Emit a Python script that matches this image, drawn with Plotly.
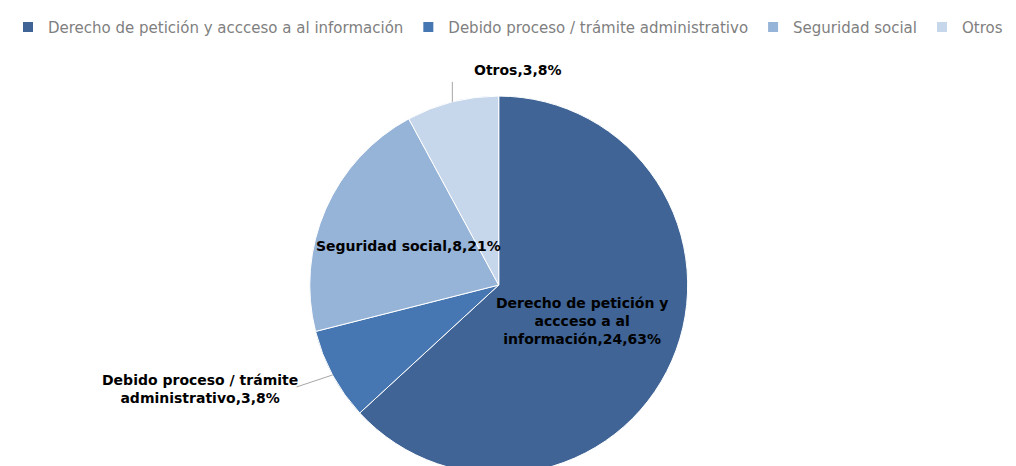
import math
import plotly.graph_objects as go

labels = ["Derecho de petición y accceso a al información",
          "Debido proceso / trámite administrativo",
          "Seguridad social",
          "Otros"]
values = [24, 3, 8, 3]
display_labels = ["Derecho de petición y<br>accceso a al<br>información",
                  "Debido proceso / trámite<br>administrativo",
                  "Seguridad social",
                  "Otros"]
colors = ["#3F6495", "#4677B2", "#96B3D8", "#C6D6EB"]

W, H = 1016, 466
dom_x = [0.183, 0.783]
dom_y = [0.0, 0.811]

total = sum(values)
texts = [f"{d},{v},{round(v / total * 100)}%" for d, v in zip(display_labels, values)]

fig = go.Figure(go.Pie(
    labels=labels,
    values=values,
    textinfo="none",
    sort=False,
    direction="clockwise",
    rotation=0,
    marker=dict(colors=colors, line=dict(color="white", width=1)),
    domain=dict(x=dom_x, y=dom_y),
    hoverinfo="label+value+percent",
))

# pie geometry in pixels (same rules plotly uses for a domain)
cx = W * (dom_x[0] + dom_x[1]) / 2
cy = H * (1 - (dom_y[0] + dom_y[1]) / 2)
R = min(W * (dom_x[1] - dom_x[0]), H * (dom_y[1] - dom_y[0])) / 2


def to_paper(px, py):
    return px / W, 1 - py / H


def polar(angle_deg, r):
    a = math.radians(angle_deg)
    return cx + math.sin(a) * r, cy - math.cos(a) * r


# label placement style per slice: (mode, radial fraction, leader offset, text offset, anchor)
placement = [
    ("inside", 0.48, None, None, "center"),
    ("outside", None, (-36, 12), (-33, 14), "right"),
    ("inside", 0.52, None, None, "center"),
    ("outside", None, (0, -20), (20, -32), "left"),
]

lbl_font = dict(family="DejaVu Sans", size=14, color="black", weight="bold")
cum = 0
for val, txt, (mode, frac, lead, toff, anchor) in zip(values, texts, placement):
    mid = (cum + val / 2) / total * 360
    cum += val
    if mode == "inside":
        px, py = polar(mid, R * frac)
        x, y = to_paper(px, py)
        fig.add_annotation(x=x, y=y, xref="paper", yref="paper", text=txt,
                           showarrow=False, font=lbl_font, align="center",
                           xanchor="center", yanchor="middle")
    else:
        px, py = polar(mid, R)
        x0, y0 = to_paper(px, py)
        x1, y1 = to_paper(px + lead[0], py + lead[1])
        fig.add_shape(type="line", xref="paper", yref="paper", x0=x0, y0=y0, x1=x1, y1=y1,
                      line=dict(color="#A6A6A6", width=1))
        tx, ty = to_paper(px + toff[0], py + toff[1])
        fig.add_annotation(x=tx, y=ty, xref="paper", yref="paper", text=txt,
                           showarrow=False, font=lbl_font, align="center",
                           xanchor=anchor, yanchor="middle")

fig.update_layout(
    width=W, height=H,
    margin=dict(l=0, r=0, t=0, b=0, autoexpand=False),
    paper_bgcolor="white",
    plot_bgcolor="white",
    showlegend=True,
    legend=dict(orientation="h", x=0.0, y=0.994, xanchor="left", yanchor="top",
                font=dict(family="DejaVu Sans", size=15, color="#7F7F7F"),
                itemwidth=30, itemsizing="constant", traceorder="normal"),
)

fig.write_html("out.html")
